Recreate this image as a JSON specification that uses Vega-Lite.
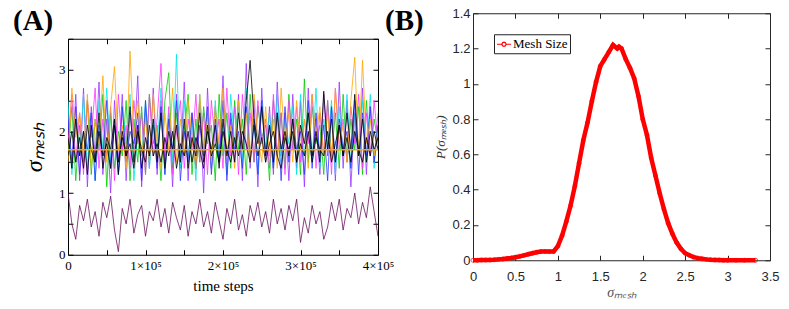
{
"$schema":"https://vega.github.io/schema/vega-lite/v6.json",
"padding":{"left":12,"top":6,"right":0,"bottom":0},
"background":"white",
"spacing":-11,
"center":true,
"resolve":{"scale":{"color":"independent"},"legend":{"color":"independent"}},
"config":{"view":{"stroke":"black","strokeWidth":1},"axis":{"grid":false,"domain":false,"tickWidth":1}},
"datasets":{
"ts":[
{"t":0,"a":2.3,"b":1.6,"c":2.5,"d":1.8,"e":2.2,"f":1.5,"g":1.9,"h":1.6,"p":1.0},
{"t":5000,"a":1.4,"b":2.4,"c":1.3,"d":2.6,"e":1.5,"f":2.7,"g":1.4,"h":2.0,"p":0.5},
{"t":10000,"a":2.6,"b":1.2,"c":2.2,"d":1.5,"e":2.4,"f":1.9,"g":2.2,"h":1.5,"p":0.25},
{"t":15000,"a":1.2,"b":2.1,"c":1.6,"d":2.3,"e":1.3,"f":2.3,"g":1.6,"h":1.9,"p":0.8},
{"t":20000,"a":2.7,"b":1.5,"c":2.6,"d":1.3,"e":2.0,"f":1.6,"g":2.0,"h":1.4,"p":0.55},
{"t":25000,"a":1.1,"b":2.5,"c":1.4,"d":2.5,"e":1.7,"f":2.6,"g":1.3,"h":2.1,"p":0.9},
{"t":30000,"a":2.4,"b":1.3,"c":2.3,"d":1.9,"e":2.3,"f":1.4,"g":2.1,"h":1.7,"p":0.45},
{"t":35000,"a":1.6,"b":2.2,"c":1.2,"d":2.7,"e":1.2,"f":2.2,"g":1.5,"h":1.5,"p":0.7},
{"t":40000,"a":2.8,"b":1.7,"c":2.5,"d":1.4,"e":2.1,"f":1.8,"g":2.3,"h":2.0,"p":0.3},
{"t":45000,"a":1.3,"b":2.6,"c":1.7,"d":2.2,"e":1.6,"f":2.9,"g":1.4,"h":1.6,"p":0.85},
{"t":50000,"a":2.2,"b":1.1,"c":2.7,"d":1.6,"e":2.5,"f":1.5,"g":1.9,"h":1.8,"p":0.6},
{"t":55000,"a":1.0,"b":2.3,"c":1.5,"d":2.4,"e":1.4,"f":2.4,"g":1.7,"h":1.4,"p":0.95},
{"t":60000,"a":2.5,"b":1.4,"c":2.1,"d":1.2,"e":2.2,"f":3.05,"g":2.2,"h":2.1,"p":0.4},
{"t":65000,"a":1.5,"b":2.0,"c":1.3,"d":2.6,"e":1.3,"f":1.7,"g":1.3,"h":1.5,"p":0.05},
{"t":70000,"a":2.6,"b":1.6,"c":2.4,"d":1.7,"e":2.4,"f":2.1,"g":2.0,"h":1.9,"p":0.75},
{"t":75000,"a":1.2,"b":2.5,"c":1.8,"d":2.1,"e":1.5,"f":1.4,"g":1.6,"h":1.6,"p":0.5},
{"t":80000,"a":2.3,"b":1.2,"c":2.6,"d":1.4,"e":2.0,"f":3.3,"g":2.4,"h":1.8,"p":0.9},
{"t":85000,"a":1.7,"b":2.2,"c":1.2,"d":2.5,"e":1.8,"f":1.9,"g":1.5,"h":1.4,"p":0.35},
{"t":90000,"a":2.9,"b":1.5,"c":2.0,"d":1.8,"e":2.3,"f":2.5,"g":2.1,"h":2.0,"p":0.65},
{"t":95000,"a":1.1,"b":2.4,"c":1.6,"d":2.3,"e":1.2,"f":1.6,"g":1.4,"h":1.7,"p":0.8},
{"t":100000,"a":2.4,"b":1.3,"c":2.5,"d":1.3,"e":2.5,"f":2.2,"g":1.9,"h":1.5,"p":0.3},
{"t":105000,"a":1.4,"b":2.6,"c":1.4,"d":2.6,"e":1.6,"f":1.5,"g":1.6,"h":2.1,"p":0.7},
{"t":110000,"a":2.7,"b":1.8,"c":2.2,"d":1.6,"e":2.1,"f":2.6,"g":2.2,"h":1.6,"p":0.55},
{"t":115000,"a":1.3,"b":2.1,"c":1.7,"d":2.2,"e":1.4,"f":1.8,"g":1.5,"h":1.8,"p":0.9},
{"t":120000,"a":2.5,"b":1.2,"c":2.7,"d":3.1,"e":2.4,"f":1.4,"g":2.3,"h":1.5,"p":0.45},
{"t":125000,"a":1.6,"b":2.5,"c":1.3,"d":1.5,"e":1.3,"f":2.3,"g":1.4,"h":1.9,"p":0.75},
{"t":130000,"a":2.2,"b":2.95,"c":2.3,"d":2.4,"e":2.2,"f":1.7,"g":2.0,"h":1.6,"p":0.35},
{"t":135000,"a":1.1,"b":1.4,"c":1.5,"d":1.3,"e":1.7,"f":2.7,"g":1.7,"h":2.0,"p":0.85},
{"t":140000,"a":2.6,"b":2.3,"c":3.25,"d":2.0,"e":2.5,"f":1.5,"g":2.1,"h":1.4,"p":0.6},
{"t":145000,"a":1.5,"b":1.6,"c":1.4,"d":2.5,"e":1.2,"f":2.2,"g":1.5,"h":1.8,"p":0.4},
{"t":150000,"a":2.8,"b":2.0,"c":2.5,"d":1.4,"e":2.0,"f":1.6,"g":2.2,"h":1.6,"p":0.8},
{"t":155000,"a":1.2,"b":2.6,"c":1.6,"d":2.2,"e":1.5,"f":2.5,"g":1.4,"h":2.0,"p":0.3},
{"t":160000,"a":2.3,"b":1.3,"c":2.2,"d":1.7,"e":2.3,"f":1.9,"g":1.9,"h":1.5,"p":0.7},
{"t":165000,"a":1.7,"b":2.2,"c":1.2,"d":2.6,"e":1.4,"f":1.4,"g":1.6,"h":1.9,"p":0.5},
{"t":170000,"a":2.5,"b":1.5,"c":2.6,"d":1.5,"e":2.1,"f":2.6,"g":2.3,"h":1.7,"p":0.9},
{"t":175000,"a":1.0,"b":2.4,"c":1.7,"d":2.3,"e":1.6,"f":1.7,"g":1.5,"h":1.4,"p":0.45},
{"t":180000,"a":2.7,"b":1.8,"c":2.3,"d":1.3,"e":2.4,"f":2.2,"g":2.0,"h":2.1,"p":0.7},
{"t":185000,"a":1.4,"b":2.1,"c":1.4,"d":2.5,"e":1.3,"f":1.5,"g":1.7,"h":1.6,"p":0.35},
{"t":190000,"a":2.4,"b":1.2,"c":2.5,"d":1.8,"e":2.2,"f":2.4,"g":2.1,"h":1.8,"p":0.85},
{"t":195000,"a":1.6,"b":2.6,"c":1.5,"d":2.2,"e":1.5,"f":1.8,"g":1.4,"h":1.5,"p":0.55},
{"t":200000,"a":2.9,"b":1.6,"c":2.1,"d":1.4,"e":2.5,"f":2.7,"g":2.2,"h":2.0,"p":0.25},
{"t":205000,"a":1.3,"b":2.3,"c":1.3,"d":2.7,"e":1.2,"f":1.6,"g":1.6,"h":1.7,"p":0.75},
{"t":210000,"a":2.2,"b":1.4,"c":2.6,"d":1.6,"e":2.3,"f":2.1,"g":2.0,"h":1.5,"p":0.5},
{"t":215000,"a":1.5,"b":2.5,"c":1.8,"d":2.4,"e":1.7,"f":1.4,"g":1.5,"h":1.9,"p":0.9},
{"t":220000,"a":2.6,"b":1.7,"c":2.4,"d":1.3,"e":2.0,"f":2.5,"g":2.3,"h":1.6,"p":0.4},
{"t":225000,"a":1.2,"b":2.2,"c":1.5,"d":2.6,"e":1.4,"f":1.7,"g":1.7,"h":2.0,"p":0.65},
{"t":230000,"a":3.1,"b":1.3,"c":2.7,"d":1.7,"e":2.4,"f":2.3,"g":2.5,"h":1.8,"p":0.3},
{"t":235000,"a":1.4,"b":2.6,"c":1.6,"d":2.3,"e":1.5,"f":1.5,"g":3.15,"h":1.5,"p":0.8},
{"t":240000,"a":2.5,"b":1.5,"c":2.2,"d":1.5,"e":2.2,"f":2.6,"g":2.2,"h":2.1,"p":0.55},
{"t":245000,"a":1.1,"b":2.4,"c":1.3,"d":2.5,"e":1.3,"f":1.9,"g":1.8,"h":1.6,"p":0.85},
{"t":250000,"a":2.7,"b":1.9,"c":2.5,"d":1.8,"e":2.5,"f":1.5,"g":2.4,"h":1.9,"p":0.45},
{"t":255000,"a":1.5,"b":2.1,"c":1.7,"d":2.2,"e":1.6,"f":2.4,"g":1.6,"h":1.5,"p":0.7},
{"t":260000,"a":2.4,"b":1.2,"c":2.3,"d":1.4,"e":2.1,"f":1.6,"g":2.1,"h":1.8,"p":0.35},
{"t":265000,"a":1.3,"b":2.5,"c":1.4,"d":2.6,"e":1.4,"f":2.2,"g":1.5,"h":2.0,"p":0.9},
{"t":270000,"a":2.8,"b":1.6,"c":2.6,"d":1.6,"e":2.3,"f":1.4,"g":2.3,"h":1.6,"p":0.5},
{"t":275000,"a":1.6,"b":2.3,"c":1.5,"d":2.3,"e":1.2,"f":2.7,"g":1.7,"h":1.4,"p":0.75},
{"t":280000,"a":2.3,"b":1.4,"c":2.2,"d":1.3,"e":2.4,"f":1.8,"g":2.0,"h":1.9,"p":0.4},
{"t":285000,"a":1.2,"b":2.6,"c":1.8,"d":2.5,"e":1.5,"f":2.3,"g":1.6,"h":1.7,"p":0.8},
{"t":290000,"a":2.6,"b":1.7,"c":2.4,"d":1.7,"e":2.2,"f":1.5,"g":2.2,"h":2.0,"p":0.55},
{"t":295000,"a":1.4,"b":2.2,"c":1.3,"d":2.4,"e":1.7,"f":2.5,"g":1.5,"h":1.5,"p":0.9},
{"t":300000,"a":2.5,"b":1.3,"c":2.6,"d":1.5,"e":2.0,"f":1.7,"g":2.1,"h":1.8,"p":0.2},
{"t":305000,"a":1.1,"b":2.85,"c":1.6,"d":2.2,"e":1.3,"f":2.2,"g":1.8,"h":1.6,"p":0.6},
{"t":310000,"a":2.7,"b":1.5,"c":2.3,"d":1.8,"e":2.5,"f":1.4,"g":2.3,"h":2.0,"p":0.35},
{"t":315000,"a":1.5,"b":2.4,"c":1.5,"d":2.6,"e":1.4,"f":2.6,"g":1.6,"h":1.5,"p":0.8},
{"t":320000,"a":2.2,"b":1.8,"c":2.7,"d":1.4,"e":2.3,"f":1.9,"g":2.0,"h":1.9,"p":0.5},
{"t":325000,"a":1.3,"b":2.1,"c":1.4,"d":2.3,"e":1.6,"f":2.4,"g":1.5,"h":1.7,"p":0.7},
{"t":330000,"a":2.6,"b":1.3,"c":2.2,"d":1.6,"e":2.1,"f":1.6,"g":2.65,"h":1.6,"p":0.25},
{"t":335000,"a":1.6,"b":2.5,"c":1.7,"d":2.5,"e":1.2,"f":2.3,"g":1.7,"h":2.0,"p":0.45},
{"t":340000,"a":2.4,"b":1.6,"c":2.5,"d":1.3,"e":2.4,"f":1.5,"g":2.2,"h":1.5,"p":0.85},
{"t":345000,"a":1.2,"b":2.3,"c":1.3,"d":2.7,"e":1.5,"f":2.7,"g":1.5,"h":1.8,"p":0.55},
{"t":350000,"a":2.8,"b":1.4,"c":2.4,"d":1.7,"e":2.2,"f":1.8,"g":2.1,"h":2.1,"p":0.9},
{"t":355000,"a":1.4,"b":2.6,"c":1.6,"d":2.2,"e":1.7,"f":2.1,"g":1.6,"h":1.6,"p":0.4},
{"t":360000,"a":2.5,"b":1.5,"c":2.6,"d":1.5,"e":2.0,"f":1.5,"g":2.3,"h":1.9,"p":0.75},
{"t":365000,"a":1.1,"b":2.2,"c":1.4,"d":2.4,"e":1.4,"f":2.5,"g":1.7,"h":1.5,"p":0.6},
{"t":370000,"a":2.3,"b":1.7,"c":2.3,"d":1.8,"e":2.5,"f":3.2,"g":2.6,"h":2.0,"p":1.0},
{"t":375000,"a":1.6,"b":2.4,"c":1.7,"d":2.6,"e":1.3,"f":1.6,"g":1.6,"h":1.7,"p":0.5},
{"t":380000,"a":2.7,"b":1.3,"c":2.5,"d":1.4,"e":2.3,"f":3.15,"g":2.2,"h":1.5,"p":0.85},
{"t":385000,"a":1.3,"b":2.5,"c":1.5,"d":2.3,"e":1.6,"f":1.8,"g":1.5,"h":1.9,"p":0.6},
{"t":390000,"a":2.4,"b":1.6,"c":2.6,"d":1.6,"e":2.4,"f":2.2,"g":2.0,"h":1.6,"p":1.1},
{"t":395000,"a":1.5,"b":2.2,"c":1.4,"d":2.5,"e":1.5,"f":1.6,"g":1.7,"h":2.0,"p":0.7},
{"t":400000,"a":2.1,"b":1.8,"c":2.3,"d":1.8,"e":2.1,"f":2.0,"g":1.9,"h":1.7,"p":0.3}
],
"pdf":[
{"x":0.00,"p":0.000,"s":"Mesh Size"},{"x":0.05,"p":0.000,"s":"Mesh Size"},{"x":0.10,"p":0.001,"s":"Mesh Size"},{"x":0.15,"p":0.001,"s":"Mesh Size"},{"x":0.20,"p":0.002,"s":"Mesh Size"},
{"x":0.25,"p":0.003,"s":"Mesh Size"},{"x":0.30,"p":0.005,"s":"Mesh Size"},{"x":0.35,"p":0.007,"s":"Mesh Size"},{"x":0.40,"p":0.010,"s":"Mesh Size"},{"x":0.45,"p":0.013,"s":"Mesh Size"},
{"x":0.50,"p":0.017,"s":"Mesh Size"},{"x":0.55,"p":0.022,"s":"Mesh Size"},{"x":0.60,"p":0.028,"s":"Mesh Size"},{"x":0.65,"p":0.034,"s":"Mesh Size"},{"x":0.70,"p":0.040,"s":"Mesh Size"},
{"x":0.75,"p":0.045,"s":"Mesh Size"},{"x":0.80,"p":0.049,"s":"Mesh Size"},{"x":0.85,"p":0.050,"s":"Mesh Size"},{"x":0.90,"p":0.049,"s":"Mesh Size"},{"x":0.95,"p":0.050,"s":"Mesh Size"},
{"x":1.00,"p":0.080,"s":"Mesh Size"},{"x":1.05,"p":0.140,"s":"Mesh Size"},{"x":1.10,"p":0.220,"s":"Mesh Size"},{"x":1.15,"p":0.310,"s":"Mesh Size"},{"x":1.20,"p":0.420,"s":"Mesh Size"},
{"x":1.25,"p":0.550,"s":"Mesh Size"},{"x":1.30,"p":0.680,"s":"Mesh Size"},{"x":1.35,"p":0.780,"s":"Mesh Size"},{"x":1.40,"p":0.900,"s":"Mesh Size"},{"x":1.45,"p":1.010,"s":"Mesh Size"},
{"x":1.50,"p":1.100,"s":"Mesh Size"},{"x":1.55,"p":1.140,"s":"Mesh Size"},{"x":1.60,"p":1.180,"s":"Mesh Size"},{"x":1.65,"p":1.220,"s":"Mesh Size"},{"x":1.70,"p":1.200,"s":"Mesh Size"},
{"x":1.72,"p":1.210,"s":"Mesh Size"},{"x":1.75,"p":1.200,"s":"Mesh Size"},{"x":1.80,"p":1.140,"s":"Mesh Size"},{"x":1.85,"p":1.090,"s":"Mesh Size"},{"x":1.90,"p":1.030,"s":"Mesh Size"},
{"x":1.95,"p":0.930,"s":"Mesh Size"},{"x":2.00,"p":0.800,"s":"Mesh Size"},{"x":2.05,"p":0.710,"s":"Mesh Size"},{"x":2.10,"p":0.580,"s":"Mesh Size"},{"x":2.15,"p":0.480,"s":"Mesh Size"},
{"x":2.20,"p":0.380,"s":"Mesh Size"},{"x":2.25,"p":0.290,"s":"Mesh Size"},{"x":2.30,"p":0.210,"s":"Mesh Size"},{"x":2.35,"p":0.150,"s":"Mesh Size"},{"x":2.40,"p":0.100,"s":"Mesh Size"},
{"x":2.45,"p":0.065,"s":"Mesh Size"},{"x":2.50,"p":0.040,"s":"Mesh Size"},{"x":2.55,"p":0.028,"s":"Mesh Size"},{"x":2.60,"p":0.018,"s":"Mesh Size"},{"x":2.65,"p":0.012,"s":"Mesh Size"},
{"x":2.70,"p":0.008,"s":"Mesh Size"},{"x":2.75,"p":0.005,"s":"Mesh Size"},{"x":2.80,"p":0.003,"s":"Mesh Size"},{"x":2.85,"p":0.002,"s":"Mesh Size"},{"x":2.90,"p":0.001,"s":"Mesh Size"},
{"x":2.95,"p":0.000,"s":"Mesh Size"},{"x":3.00,"p":0.000,"s":"Mesh Size"},{"x":3.10,"p":0.000,"s":"Mesh Size"},{"x":3.20,"p":0.000,"s":"Mesh Size"},{"x":3.33,"p":0.000,"s":"Mesh Size"}
]
},
"hconcat":[
{
"width":310,"height":216,
"title":{"text":"(A)","anchor":"start","frame":"group","dx":-55,"font":"Liberation Serif","fontSize":29,"fontWeight":"bold","color":"black","offset":2},
"layer":[
{
"data":{"name":"ts"},
"transform":[{"fold":["a","b","c","d","e","f","g","h","p"],"as":["s","v"]}],
"mark":{"type":"line","strokeWidth":0.8,"clip":true},
"encoding":{
"x":{"field":"t","type":"quantitative","scale":{"domain":[0,400000],"nice":false,"zero":false},
"axis":{"orient":"bottom","values":[0,50000,100000,150000,200000,250000,300000,350000,400000],
"labelExpr":"datum.value % 100000 == 0 ? (datum.value == 0 ? '0' : (datum.value/100000) + '×10⁵') : ''",
"tickSize":-5,"tickColor":"black","labelPadding":10,"labelFont":"Liberation Serif","labelFontSize":13,"labelColor":"black","labelFlush":false,
"title":"time steps","titleFont":"Liberation Serif","titleFontSize":15,"titleFontWeight":"normal","titleColor":"black","titlePadding":6}},
"y":{"field":"v","type":"quantitative","scale":{"domain":[0,3.5],"nice":false},
"axis":{"orient":"left","values":[0,0.5,1,1.5,2,2.5,3,3.5],
"labelExpr":"datum.value % 1 == 0 && datum.value < 3.5 ? datum.value : ''",
"tickSize":-5,"tickColor":"black","labelPadding":8,"labelFont":"Liberation Serif","labelFontSize":13,"labelColor":"black",
"title":"σₘₑₛₕ","titleFont":"Liberation Serif","titleFontSize":24,"titleFontStyle":"italic","titleFontWeight":"normal","titleColor":"black","titlePadding":12}},
"color":{"field":"s","type":"nominal","legend":null,
"scale":{"domain":["a","b","c","d","e","f","g","h","p"],"range":["#9933ff","#00cc00","#00e5e5","#ff33ff","#3333ff","#ffa500","#000000","#000000","#6b1060"]}}
}
},
{
"data":{"values":[{"m":1.7}]},
"mark":{"type":"rule","color":"#ffa500","strokeWidth":1.5},
"encoding":{"y":{"field":"m","type":"quantitative","axis":null}}
},
{
"data":{"values":[{"t":0,"v":0}]},
"mark":{"type":"point","opacity":0},
"encoding":{
"x":{"field":"t","type":"quantitative","axis":{"orient":"top","values":[0,50000,100000,150000,200000,250000,300000,350000,400000],"labels":false,"tickSize":-5,"tickColor":"black","title":null}},
"y":{"field":"v","type":"quantitative","axis":{"orient":"right","values":[0,0.5,1,1.5,2,2.5,3,3.5],"labels":false,"tickSize":-5,"tickColor":"black","title":null}}
}
}
],
"resolve":{"axis":{"x":"independent","y":"independent"}}
},
{
"width":297,"height":247,
"title":{"text":"(B)","anchor":"start","frame":"group","dx":-88,"dy":29,"font":"Liberation Serif","fontSize":29,"fontWeight":"bold","color":"black","offset":0},
"view":{"stroke":"#262626"},
"layer":[
{
"data":{"name":"pdf"},
"mark":{"type":"line","strokeWidth":4.5},
"encoding":{
"x":{"field":"x","type":"quantitative","scale":{"domain":[0,3.5],"nice":false},
"axis":{"orient":"bottom","values":[0,0.5,1,1.5,2,2.5,3,3.5],"format":"~g","tickSize":-5,"tickColor":"#262626","labelPadding":15,
"labelFont":"Liberation Sans","labelFontSize":13,"labelColor":"#262626","labelFlush":false,
"title":["σₘₑₛₕ"," "],"titleLineHeight":20,"titleFont":"Liberation Serif","titleFontSize":14,"titleFontStyle":"italic","titleFontWeight":"normal","titleColor":"#555555","titlePadding":2}},
"y":{"field":"p","type":"quantitative","scale":{"domain":[0,1.4],"nice":false},
"axis":{"orient":"left","values":[0,0.2,0.4,0.6,0.8,1,1.2,1.4],"format":"~g","tickSize":-5,"tickColor":"#262626","labelPadding":8,
"labelFont":"Liberation Sans","labelFontSize":13,"labelColor":"#262626","labelFlush":false,
"title":"P(σₘₑₛₕ)","titleFont":"Liberation Serif","titleFontSize":13,"titleFontStyle":"italic","titleFontWeight":"normal","titleColor":"#333333","titlePadding":4}},
"color":{"field":"s","type":"nominal","scale":{"domain":["Mesh Size"],"range":["#ff0000"]},
"legend":{"orient":"top-left","offset":21,"title":null,"strokeColor":"#222222","fillColor":"white","padding":2,
"labelFont":"Liberation Serif","labelFontSize":13,"labelColor":"black","labelOffset":1,
"symbolType":"M-1,0H-0.3M0.3,0H1M0.3,0L0.21,0.21L0,0.3L-0.21,0.21L-0.3,0L-0.21,-0.21L0,-0.3L0.21,-0.21Z",
"symbolSize":196,"symbolStrokeWidth":1.2,"symbolFillColor":"transparent","symbolStrokeColor":"#ff3030"}}
}
},
{
"data":{"name":"pdf"},
"mark":{"type":"point","shape":"circle","filled":false,"color":"#ff0000","size":16,"strokeWidth":1},
"encoding":{"x":{"field":"x","type":"quantitative","axis":null},"y":{"field":"p","type":"quantitative","axis":null}}
},
{
"data":{"values":[{"x":0,"p":0}]},
"mark":{"type":"point","opacity":0},
"encoding":{
"x":{"field":"x","type":"quantitative","axis":{"orient":"top","values":[0,0.5,1,1.5,2,2.5,3,3.5],"labels":false,"tickSize":-5,"tickColor":"#262626","title":null}},
"y":{"field":"p","type":"quantitative","axis":{"orient":"right","values":[0,0.2,0.4,0.6,0.8,1,1.2,1.4],"labels":false,"tickSize":-5,"tickColor":"#262626","title":null}}
}
}
],
"resolve":{"axis":{"x":"independent","y":"independent"}}
}
]
}
